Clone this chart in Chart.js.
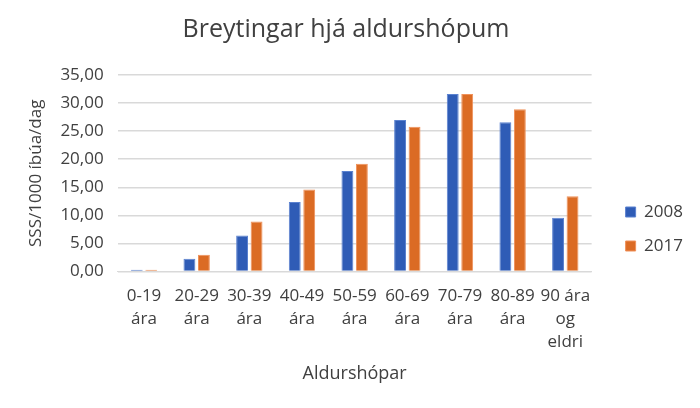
<!DOCTYPE html>
<html>
<head>
<meta charset="utf-8">
<script src="https://cdn.jsdelivr.net/npm/chart.js@4"></script>
<style>
  html, body { margin: 0; padding: 0; background: #fff; }
  #wrap { width: 700px; height: 408px; }
</style>
</head>
<body>
<div id="wrap"><canvas id="chart"></canvas></div>
<script>
const categories = [
  ["0-19", "ára"], ["20-29", "ára"], ["30-39", "ára"], ["40-49", "ára"],
  ["50-59", "ára"], ["60-69", "ára"], ["70-79", "ára"], ["80-89", "ára"],
  ["90 ára", "og", "eldri"]
];
const values2008 = [0.3, 2.3, 6.4, 12.4, 17.9, 27.0, 31.6, 26.6, 9.6];
const values2017 = [0.3, 3.0, 8.9, 14.6, 19.2, 25.8, 31.6, 28.9, 13.4];
const seriesNames = ["2008", "2017"];

const fontFamily = "'Open Sans', sans-serif";
const textColor = "#404040";

// nudge the legend to the right, away from the plot
const legendShift = {
  id: "legendShift",
  afterLayout(chart) {
    chart.legend.left += 17;
    chart.legend.right += 17;
  },
};

new Chart(document.getElementById("chart"), {
  type: "bar",
  data: {
    labels: categories,
    datasets: [
      {
        label: seriesNames[0],
        data: values2008,
        backgroundColor: "#2f5cb6",
        borderColor: "#5b82d0",
        borderWidth: 1,
        categoryPercentage: 0.55,
        barPercentage: 0.82,
      },
      {
        label: seriesNames[1],
        data: values2017,
        backgroundColor: "#db6b24",
        borderColor: "#f0915a",
        borderWidth: 1,
        categoryPercentage: 0.55,
        barPercentage: 0.82,
      },
    ],
  },
  plugins: [legendShift],
  options: {
    responsive: true,
    maintainAspectRatio: false,
    animation: false,
    layout: { padding: { left: 16, right: 24, top: 5, bottom: 19 } },
    plugins: {
      title: {
        display: true,
        text: "Breytingar hjá aldurshópum",
        color: textColor,
        font: { family: fontFamily, size: 25, weight: "normal" },
        padding: { top: 10, bottom: 30 },
      },
      legend: {
        position: "right",
        title: {
          display: true,
          text: "",
          font: { size: 10 },
          padding: { top: 52, bottom: 0 },
        },
        labels: {
          color: textColor,
          font: { family: fontFamily, size: 17 },
          boxWidth: 10,
          boxHeight: 10,
          padding: 17,
        },
      },
      tooltip: { enabled: false },
    },
    scales: {
      x: {
        grid: { display: false },
        border: { color: "#d9d9d9" },
        ticks: {
          color: textColor,
          font: { family: fontFamily, size: 17, lineHeight: 1.35 },
          maxRotation: 0,
          autoSkip: false,
          padding: 5,
        },
        title: {
          display: true,
          text: "Aldurshópar",
          color: textColor,
          font: { family: fontFamily, size: 18 },
          padding: { top: 5 },
        },
      },
      y: {
        min: 0,
        max: 35,
        grid: { color: "#d9d9d9", lineWidth: 1.5, drawTicks: false },
        border: { display: false },
        ticks: {
          stepSize: 5,
          color: textColor,
          font: { family: fontFamily, size: 17 },
          padding: 14,
          callback: (v) => v.toFixed(2).replace(".", ","),
        },
        title: {
          display: true,
          text: "SSS/1000 íbúa/dag",
          color: textColor,
          font: { family: fontFamily, size: 17 },
          padding: { top: 10, bottom: 0 },
        },
      },
    },
  },
});
</script>
</body>
</html>
